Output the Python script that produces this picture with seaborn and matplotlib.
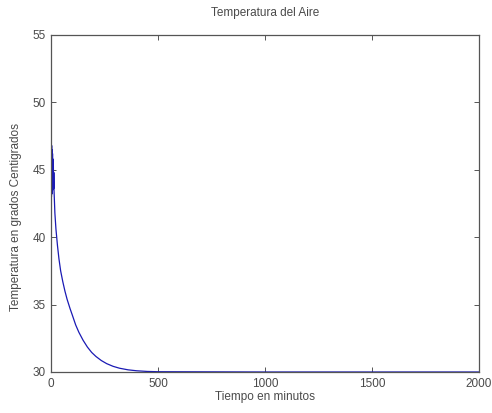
import matplotlib
matplotlib.use("Agg")
import matplotlib.pyplot as plt
import seaborn as sns
import pandas as pd

# Air temperature readings (minutes, degrees C)
tiempo = [0, 1, 2, 3, 4, 5, 6, 7, 8, 9, 10, 11, 12, 13, 14,
          18, 23, 30, 37, 45, 55, 65, 75, 89, 100, 115, 130, 150, 170, 190,
          210, 235, 260, 290, 320, 360, 400, 450, 500, 1000, 1500, 2000]
temperatura = [40, 47, 43, 46.8, 43.2, 46.5, 43.4, 46.2, 43.5, 45.8, 43.6,
               45.3, 43.6, 44.8, 43.5,
               41.8, 40.6, 39.4, 38.4, 37.5, 36.7, 36.0, 35.4, 34.7, 34.2,
               33.5, 32.95, 32.35, 31.85, 31.45, 31.15, 30.85, 30.62, 30.42,
               30.28, 30.16, 30.09, 30.04, 30.02, 30, 30, 30]

x_ticks = [0, 500, 1000, 1500, 2000]
y_ticks = [30, 35, 40, 45, 50, 55]

sns.set_style("white")
plt.rcParams["font.family"] = ["Liberation Sans", "DejaVu Sans"]

df = pd.DataFrame({"Tiempo": tiempo, "Temperatura": temperatura})

fig = plt.figure(figsize=(4.92, 4.13), dpi=100)
ax = fig.add_axes([0.1037, 0.0993, 0.8699, 0.816])

sns.lineplot(data=df, x="Tiempo", y="Temperatura", ax=ax, color="#1a1ab4",
             linewidth=0.9, estimator=None, sort=False)

text_color = "#4a4a4a"
ax.set_xlim(0, 2000)
ax.set_ylim(30, 55)
ax.set_xticks(x_ticks)
ax.set_yticks(y_ticks)
ax.tick_params(direction="in", length=3.5, width=0.7, colors="#555555",
               labelcolor=text_color, labelsize=8.5, top=True, right=True,
               bottom=True, left=True, pad=4)
for s in ax.spines.values():
    s.set_visible(True)
    s.set_color("#555555")
    s.set_linewidth(0.9)

ax.set_title("Temperatura del Aire", fontsize=8.5, color=text_color, pad=14)
ax.set_xlabel("Tiempo en minutos", fontsize=8.5, color=text_color, labelpad=1)
ax.set_ylabel("Temperatura en grados Centigrados", fontsize=8.5,
              color=text_color, labelpad=4)
ax.yaxis.set_label_coords(-0.068, 0.46)

fig.savefig("out.png", dpi=100)
